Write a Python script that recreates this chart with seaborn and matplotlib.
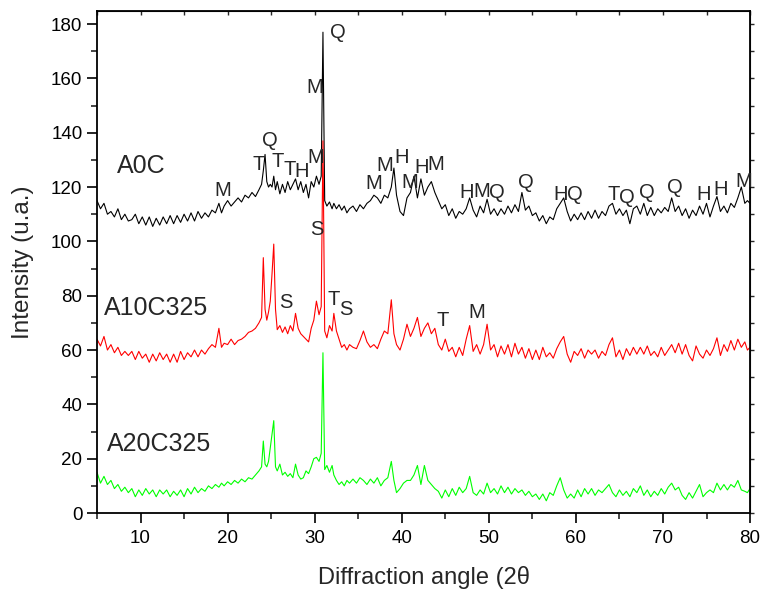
import pandas as pd
import matplotlib
matplotlib.use("Agg")
import matplotlib.pyplot as plt
import seaborn as sns
from matplotlib.ticker import MultipleLocator, NullFormatter

# 2-theta positions (shared by the three patterns)
two_theta = [
    5.0, 5.4, 5.8, 6.2, 6.6, 7.0, 7.4, 7.8, 8.2, 8.6,
    9.0, 9.4, 9.8, 10.2, 10.6, 11.0, 11.4, 11.8, 12.2, 12.6,
    13.0, 13.4, 13.8, 14.2, 14.6, 15.0, 15.4, 15.8, 16.2, 16.6,
    17.0, 17.4, 17.8, 18.2, 18.6, 19.0, 19.3, 19.6, 20.0, 20.4,
    20.8, 21.2, 21.6, 22.0, 22.4, 22.8, 23.2, 23.6, 23.9, 24.1,
    24.3, 24.5, 24.7, 24.9, 25.1, 25.3, 25.5, 25.7, 26.0, 26.3,
    26.6, 26.9, 27.2, 27.5, 27.8, 28.1, 28.4, 28.7, 29.0, 29.3,
    29.6, 29.9, 30.2, 30.5, 30.75, 30.95, 31.15, 31.4, 31.7, 32.0,
    32.2, 32.5, 32.8, 33.1, 33.4, 33.7, 34.0, 34.4, 34.8, 35.2,
    35.6, 36.0, 36.4, 36.8, 37.2, 37.6, 38.0, 38.4, 38.8, 39.1,
    39.4, 39.8, 40.2, 40.6, 41.0, 41.4, 41.8, 42.2, 42.6, 43.0,
    43.4, 43.8, 44.2, 44.6, 45.0, 45.4, 45.8, 46.2, 46.6, 47.0,
    47.4, 47.8, 48.2, 48.6, 49.0, 49.4, 49.8, 50.2, 50.6, 51.0,
    51.4, 51.8, 52.2, 52.6, 53.0, 53.4, 53.8, 54.2, 54.6, 55.0,
    55.4, 55.8, 56.2, 56.6, 57.0, 57.4, 57.8, 58.2, 58.6, 59.0,
    59.4, 59.8, 60.2, 60.6, 61.0, 61.4, 61.8, 62.2, 62.6, 63.0,
    63.4, 63.8, 64.2, 64.6, 65.0, 65.4, 65.8, 66.2, 66.6, 67.0,
    67.4, 67.8, 68.2, 68.6, 69.0, 69.4, 69.8, 70.2, 70.6, 71.0,
    71.4, 71.8, 72.2, 72.6, 73.0, 73.4, 73.8, 74.2, 74.6, 75.0,
    75.4, 75.8, 76.2, 76.6, 77.0, 77.4, 77.8, 78.2, 78.6, 79.0,
    79.4, 79.7, 80.0,
]

a0c = [
    115, 112, 114, 110, 111, 109, 112, 108, 110, 107.5,
    108, 110, 106.5, 109, 106, 109, 105.5, 108.5, 106, 109,
    106.5, 109.5, 106.5, 109.5, 107, 110, 107.5, 110.5, 107.5, 111,
    108.5, 110.5, 109, 111.5, 110.5, 114, 110.5, 113, 115, 113,
    114.5, 116, 114.5, 117, 116, 118, 116.5, 119, 121, 126,
    132, 122, 120, 121, 120, 124, 119, 122, 117.5, 121,
    118, 122, 119, 121, 123, 119, 122, 118, 121, 116,
    122, 120, 124, 121, 124, 177, 115, 113, 114.5, 112,
    114, 112, 113.5, 111.5, 113, 110.5, 112, 113, 111, 113.5,
    112, 114, 115, 117, 116, 114, 117, 116, 120, 127,
    117, 111, 109.5, 116, 118, 124, 116, 123, 117, 120,
    122, 118, 115, 112, 113.5, 109.5, 112, 108.5, 111, 110,
    112, 116, 111.5, 109, 113, 110.5, 115.5, 110, 112, 109.5,
    112, 110, 113, 110.5, 113.5, 111, 118, 111.5, 113, 109.5,
    110.5, 107.5, 109.5, 106.5, 109, 108, 112, 114, 116, 111,
    107.5, 110, 108, 110.5, 108, 111, 108.5, 111.5, 108.5, 111,
    109.5, 113, 114, 110, 112, 109.5, 111.5, 106.5, 112, 113,
    110, 114, 109.5, 112.5, 109.5, 112, 110.5, 112.5, 111, 116,
    111, 113, 109.5, 112, 108.5, 111.5, 109.5, 113, 110, 114,
    109, 113, 116.5, 111, 113, 110.5, 114, 112.5, 116, 120,
    114, 115, 114,
]

a10c325 = [
    64, 61.5, 65, 60, 62, 59, 61, 58, 59.5, 58,
    59.5, 56.5, 59.5, 57, 58.5, 55.5, 58.5, 56, 59, 56.5,
    58.5, 55.5, 58.5, 55.5, 59.5, 56.5, 59, 57.5, 60, 57.5,
    60, 58.5, 60.5, 62, 61, 68, 61, 62.5, 62, 64,
    62, 63.5, 64, 65, 66.5, 67, 68, 70, 72, 94,
    75, 71, 74, 78, 88, 99, 75, 67.5, 69, 66.5,
    68.5, 66, 69, 67, 73.5, 68, 66, 65, 64, 63,
    68, 71, 78, 73, 76, 137, 67, 64.5, 69, 67,
    73.5, 67, 64, 61, 62, 60, 62, 61, 60.5, 63.5,
    67, 63, 61, 62, 60.5, 64, 67, 66, 78.5, 66,
    62, 60, 64, 69.5, 65, 68, 72, 65, 68, 70,
    66, 68, 62, 60, 64, 59.5, 61, 57.5, 61, 58,
    64, 69, 59.5, 62, 58.5, 62, 69.5, 60, 62, 57.5,
    61.5, 58.5, 62, 57.5, 62.5, 58.5, 61, 57, 60.5, 56.5,
    60, 56.5, 61, 57.5, 59, 57, 60.5, 63, 65, 58.5,
    55.5, 59.5, 58, 60.5, 57, 60, 58.5, 60, 57, 59.5,
    58, 62, 64.5, 57.5, 60, 56.5, 60.5, 58, 61, 58.5,
    61, 58.5, 61.5, 58, 59.5, 57.5, 61, 58, 60, 62,
    59, 62.5, 58.5, 62, 58, 56, 61.5, 58.5, 57, 60,
    58, 60.5, 64.5, 58, 62, 59.5, 63.5, 60, 64, 61,
    63, 60, 61,
]

a20c325 = [
    15, 11, 13.5, 10.5, 12, 9, 10.5, 8, 9.5, 7.5,
    9, 6, 8.5, 6.5, 9, 7, 8.5, 6, 8.5, 7,
    8.5, 6, 8, 6.5, 8.5, 6, 9, 7, 9.5, 7.5,
    9, 8, 10, 9, 10.5, 9.5, 11, 10, 11.5, 10.5,
    12, 11, 12.5, 11.5, 13, 12.5, 14, 15.5, 17, 26.5,
    18, 17, 19, 24, 29, 34, 17, 15.5, 18, 14,
    15, 13.5, 14.5, 13, 18, 14, 12.5, 13, 15.5, 14.5,
    17, 20, 20.5, 19, 22, 59, 16, 17.5, 15, 17.5,
    14, 12, 10.5, 11.5, 10, 12, 11, 12.5, 11, 13,
    12, 10.5, 12.5, 11, 13, 10, 12, 13, 19, 12,
    7.5, 9, 11, 12, 12, 14, 17.5, 10.5, 17.5, 12,
    10.5, 9, 8, 5.5, 8.5, 6, 9, 6.5, 9.5, 7.5,
    9, 13.5, 7.5, 6.5, 8.5, 7, 11, 7.5, 9, 7,
    10, 7.5, 9.5, 7, 9, 7.5, 8.5, 6.5, 8, 6,
    7, 5, 7, 4.5, 7.5, 6.5, 10, 13, 8.5, 5.5,
    7, 5.5, 8.5, 6, 9, 7, 9, 6.5, 8.5, 7.5,
    9, 10.5, 7.5, 6, 8.5, 6.5, 8, 6, 9, 7.5,
    10, 6.5, 8.5, 6, 8, 6.5, 9, 7, 9.5, 11,
    8.5, 9.5, 6.5, 5, 7.5, 5.5, 8, 10.5, 6, 7.5,
    8.5, 7.5, 11, 8.5, 10.5, 8.5, 10.5, 9.5, 12, 8.5,
    8, 7.5, 9,
]

sample_names = ["A0C", "A10C325", "A20C325"]
sample_colors = ["black", "red", "#00ff00"]
sample_label_pos = [(7.3, 127.7), (5.8, 75.6), (6.15, 25.3)]

# phase marks: letter, 2-theta, intensity
phase_letters = ["M", "T", "Q", "T", "T", "H", "M", "M", "Q", "S",
                 "M", "M", "H", "M", "H", "M", "H", "M", "Q", "Q",
                 "H", "Q", "T", "Q", "Q", "Q", "H", "H", "M",
                 "S", "T", "S", "T", "M"]
phase_x = [19.4, 23.6, 24.8, 25.75, 27.1, 28.55, 30.1, 30.0, 32.65, 30.3,
           36.8, 38.0, 39.95, 40.9, 42.25, 43.95, 47.4, 49.2, 50.95, 54.25,
           58.2, 59.9, 64.3, 65.85, 68.1, 71.4, 74.65, 76.6, 79.25,
           26.7, 32.2, 33.6, 44.65, 48.6]
phase_y = [118.8, 128.4, 137.0, 129.5, 126.6, 125.9, 130.8, 156.8, 176.8, 104.4,
           121.2, 128.1, 130.8, 121.6, 127.1, 128.3, 117.9, 118.5, 117.9, 121.6,
           117.3, 117.3, 117.3, 116.0, 117.9, 119.7, 117.3, 119.1, 122.2,
           77.4, 78.6, 75.0, 70.7, 73.7]

sns.set_style("ticks")
plt.rcParams["font.family"] = ["Liberation Sans", "DejaVu Sans"]

fig = plt.figure(figsize=(7.62, 5.92), dpi=100)
ax = fig.add_axes([0.1273, 0.1334, 0.857, 0.848])

for name, series, color in zip(sample_names, [a0c, a10c325, a20c325], sample_colors):
    sns.lineplot(x=two_theta, y=series, color=color, linewidth=0.8,
                 estimator=None, sort=False, ax=ax)

for name, (tx, ty) in zip(sample_names, sample_label_pos):
    ax.text(tx, ty, name, fontsize=18, ha="left", va="center")

for letter, px, py in zip(phase_letters, phase_x, phase_y):
    ax.text(px, py, letter, fontsize=14.5, ha="center", va="center")

ax.set_xlim(5, 80)
ax.set_ylim(0, 184.8)
ax.xaxis.set_major_locator(MultipleLocator(10))
ax.xaxis.set_minor_locator(MultipleLocator(5))
ax.yaxis.set_major_locator(MultipleLocator(20))
ax.yaxis.set_minor_locator(MultipleLocator(10))
ax.tick_params(axis="both", which="major", direction="out", length=7, width=1.2,
               labelsize=13.5, colors="black")
ax.tick_params(axis="x", which="major", pad=5)
ax.tick_params(axis="both", which="minor", direction="out", length=4, width=1.2)
for s in ax.spines.values():
    s.set_linewidth(1.3)
    s.set_color("black")

# top and right ticks without labels
top = ax.secondary_xaxis("top")
top.xaxis.set_major_locator(MultipleLocator(5))
top.xaxis.set_major_formatter(NullFormatter())
top.tick_params(direction="in", length=3, width=1.0)
right = ax.secondary_yaxis("right")
right.yaxis.set_major_locator(MultipleLocator(10))
right.yaxis.set_major_formatter(NullFormatter())
right.tick_params(direction="out", length=3, width=1.0)

ax.set_xlabel("Diffraction angle (2\u03b8", fontsize=17, labelpad=14)
ax.set_ylabel("Intensity (u.a.)", fontsize=17.5, labelpad=12)

fig.savefig("out.png", dpi=100)
